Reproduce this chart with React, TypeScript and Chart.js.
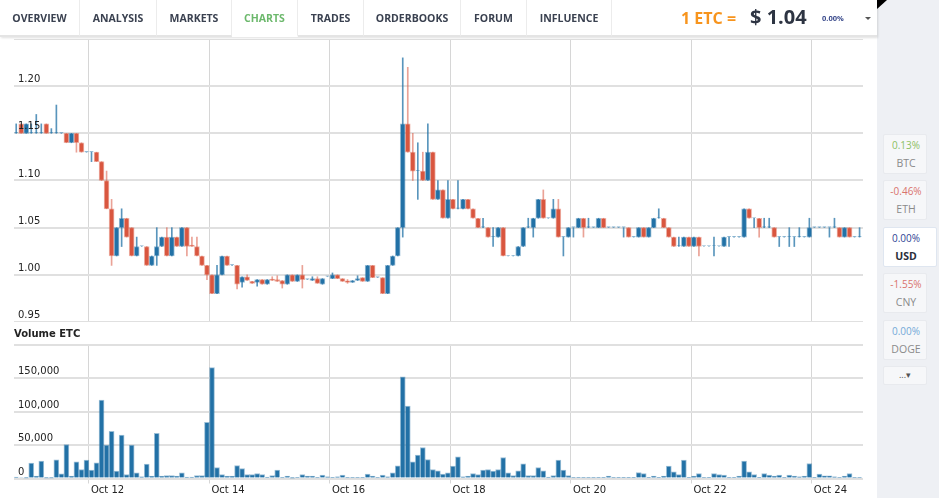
import React, { useEffect, useRef } from 'react';
import { Chart, registerables } from 'chart.js';

Chart.register(...registerables);

// Candles: 2-hour interval, first candle centred at Oct 10 19:00 (hours counted from Oct 10 00:00)
const START_HOUR = 19;
const STEP_HOURS = 2;
const X_MIN = 18.12;
const X_MAX = 356.37;

const dayTicks = [48, 96, 144, 192, 240, 288, 336];
const dayLabels = ['Oct 12', 'Oct 14', 'Oct 16', 'Oct 18', 'Oct 20', 'Oct 22', 'Oct 24'];
const priceTicks = [0.95, 1.0, 1.05, 1.1, 1.15, 1.2, 1.25];
const volumeTicks = [0, 50000, 100000, 150000, 200000];

const opens = [
  1.15, 1.16, 1.15, 1.15, 1.15, 1.15, 1.16, 1.15, 1.15, 1.15,
  1.15, 1.14, 1.15, 1.14, 1.13, 1.13, 1.13, 1.12, 1.10, 1.07,
  1.02, 1.05, 1.06, 1.05, 1.02, 1.03, 1.03, 1.01, 1.02, 1.03,
  1.04, 1.02, 1.04, 1.03, 1.05, 1.031, 1.03, 1.02, 1.01, 1.00,
  0.98, 1.00, 1.02, 1.01, 1.01, 0.992, 0.998, 0.993, 0.992, 0.995,
  0.990, 0.995, 0.995, 0.994, 0.990, 1.000, 0.993, 1.000, 0.995, 0.994,
  0.996, 0.990, 0.998, 0.996, 1.000, 0.996, 0.993, 0.992, 0.994, 0.997,
  0.993, 1.010, 0.997, 0.997, 0.980, 1.010, 1.020, 1.05, 1.16, 1.13,
  1.11, 1.11, 1.10, 1.13, 1.08, 1.09, 1.06, 1.08, 1.07, 1.07,
  1.08, 1.07, 1.06, 1.05, 1.05, 1.04, 1.04, 1.05, 1.02, 1.02,
  1.02, 1.03, 1.05, 1.05, 1.06, 1.08, 1.06, 1.06, 1.07, 1.04,
  1.04, 1.05, 1.05, 1.06, 1.05, 1.05, 1.05, 1.06, 1.05, 1.05,
  1.05, 1.05, 1.05, 1.04, 1.04, 1.05, 1.04, 1.05, 1.06, 1.06,
  1.05, 1.04, 1.03, 1.03, 1.04, 1.03, 1.04, 1.03, 1.03, 1.03,
  1.03, 1.03, 1.04, 1.04, 1.04, 1.04, 1.07, 1.06, 1.06, 1.05,
  1.05, 1.05, 1.04, 1.04, 1.04, 1.04, 1.04, 1.04, 1.04, 1.05,
  1.05, 1.05, 1.05, 1.05, 1.05, 1.04, 1.05, 1.04, 1.04,
];
const closes = [
  1.15, 1.15, 1.16, 1.15, 1.15, 1.15, 1.15, 1.15, 1.15, 1.15,
  1.14, 1.15, 1.14, 1.13, 1.13, 1.13, 1.12, 1.10, 1.07, 1.02,
  1.05, 1.06, 1.04, 1.02, 1.03, 1.03, 1.01, 1.02, 1.03, 1.04,
  1.02, 1.04, 1.03, 1.05, 1.03, 1.03, 1.02, 1.01, 1.00, 0.98,
  1.00, 1.02, 1.01, 1.01, 0.99, 0.998, 0.994, 0.991, 0.995, 0.990,
  0.995, 0.994, 0.993, 0.990, 1.000, 0.993, 1.000, 0.995, 0.995, 0.996,
  0.991, 0.996, 0.998, 1.000, 0.996, 0.993, 0.992, 0.994, 0.996, 0.993,
  1.010, 0.997, 0.997, 0.980, 1.010, 1.020, 1.050, 1.16, 1.13, 1.11,
  1.11, 1.10, 1.13, 1.08, 1.09, 1.06, 1.08, 1.07, 1.07, 1.08,
  1.07, 1.06, 1.05, 1.05, 1.04, 1.04, 1.05, 1.02, 1.02, 1.02,
  1.03, 1.05, 1.05, 1.06, 1.08, 1.06, 1.06, 1.07, 1.04, 1.04,
  1.05, 1.05, 1.06, 1.05, 1.05, 1.05, 1.06, 1.05, 1.05, 1.05,
  1.05, 1.05, 1.04, 1.04, 1.05, 1.04, 1.05, 1.06, 1.06, 1.05,
  1.04, 1.03, 1.03, 1.04, 1.03, 1.04, 1.03, 1.03, 1.03, 1.03,
  1.03, 1.04, 1.04, 1.04, 1.04, 1.07, 1.06, 1.06, 1.05, 1.05,
  1.05, 1.04, 1.04, 1.04, 1.04, 1.04, 1.04, 1.04, 1.05, 1.05,
  1.05, 1.05, 1.05, 1.05, 1.04, 1.05, 1.04, 1.04, 1.04,
];
const highs = [
  1.16, 1.16, 1.16, 1.16, 1.17, 1.16, 1.16, 1.155, 1.18, 1.15,
  1.15, 1.15, 1.15, 1.14, 1.13, 1.13, 1.13, 1.12, 1.11, 1.08,
  1.05, 1.07, 1.06, 1.05, 1.04, 1.03, 1.03, 1.02, 1.05, 1.04,
  1.05, 1.05, 1.04, 1.05, 1.05, 1.04, 1.04, 1.02, 1.01, 1.00,
  1.01, 1.02, 1.02, 1.01, 1.01, 0.998, 1.000, 0.993, 0.995, 0.995,
  0.995, 0.998, 0.999, 0.994, 1.000, 1.000, 1.000, 1.010, 0.995, 0.998,
  0.998, 0.996, 0.998, 1.002, 1.000, 0.996, 0.995, 0.994, 0.999, 0.997,
  1.010, 1.010, 0.997, 0.997, 1.010, 1.020, 1.050, 1.23, 1.22, 1.15,
  1.14, 1.13, 1.16, 1.13, 1.10, 1.09, 1.10, 1.08, 1.10, 1.08,
  1.08, 1.07, 1.06, 1.06, 1.05, 1.05, 1.05, 1.05, 1.02, 1.02,
  1.03, 1.05, 1.06, 1.06, 1.08, 1.09, 1.06, 1.08, 1.08, 1.04,
  1.05, 1.05, 1.06, 1.06, 1.06, 1.05, 1.06, 1.06, 1.05, 1.05,
  1.05, 1.05, 1.05, 1.04, 1.05, 1.05, 1.05, 1.06, 1.07, 1.06,
  1.05, 1.04, 1.04, 1.04, 1.04, 1.04, 1.04, 1.03, 1.03, 1.04,
  1.03, 1.04, 1.04, 1.04, 1.04, 1.07, 1.07, 1.06, 1.06, 1.06,
  1.06, 1.05, 1.04, 1.04, 1.05, 1.04, 1.05, 1.04, 1.06, 1.05,
  1.05, 1.05, 1.05, 1.06, 1.05, 1.05, 1.05, 1.04, 1.05,
];
const lows = [
  1.15, 1.15, 1.15, 1.15, 1.15, 1.15, 1.15, 1.15, 1.15, 1.15,
  1.14, 1.14, 1.13, 1.13, 1.13, 1.12, 1.12, 1.10, 1.07, 1.01,
  1.02, 1.03, 1.04, 1.02, 1.02, 1.03, 1.01, 1.01, 1.01, 1.03,
  1.02, 1.02, 1.03, 1.03, 1.02, 1.03, 1.02, 1.01, 0.995, 0.98,
  0.98, 1.00, 1.01, 1.01, 0.985, 0.987, 0.994, 0.991, 0.988, 0.990,
  0.990, 0.994, 0.993, 0.986, 0.990, 0.993, 0.993, 0.986, 0.995, 0.994,
  0.991, 0.990, 0.998, 0.996, 0.996, 0.993, 0.991, 0.992, 0.994, 0.993,
  0.993, 0.997, 0.997, 0.980, 0.980, 1.010, 1.020, 1.04, 1.13, 1.10,
  1.08, 1.10, 1.10, 1.08, 1.08, 1.06, 1.06, 1.07, 1.07, 1.07,
  1.07, 1.06, 1.05, 1.05, 1.04, 1.03, 1.04, 1.02, 1.02, 1.02,
  1.02, 1.03, 1.05, 1.04, 1.06, 1.06, 1.06, 1.06, 1.04, 1.02,
  1.04, 1.04, 1.05, 1.04, 1.05, 1.05, 1.05, 1.05, 1.05, 1.05,
  1.05, 1.04, 1.04, 1.04, 1.04, 1.04, 1.04, 1.05, 1.06, 1.05,
  1.04, 1.03, 1.03, 1.03, 1.03, 1.03, 1.02, 1.03, 1.03, 1.02,
  1.03, 1.03, 1.03, 1.04, 1.04, 1.04, 1.06, 1.05, 1.04, 1.05,
  1.05, 1.04, 1.03, 1.04, 1.03, 1.03, 1.04, 1.04, 1.04, 1.05,
  1.05, 1.05, 1.04, 1.05, 1.04, 1.04, 1.04, 1.04, 1.04,
];
const volumes = [
  2000, 1500, 500, 23000, 3500, 26000, 500, 500, 28000, 7000,
  51000, 3500, 25000, 13500, 27500, 12500, 23500, 117500, 50000, 70500,
  11000, 65000, 6000, 50000, 8500, 2500, 21500, 3500, 67500, 3500,
  4500, 4500, 3500, 8500, 2000, 2000, 4500, 4500, 84000, 166000,
  16500, 6000, 3500, 3500, 19500, 15000, 6000, 6000, 7500, 6000,
  2000, 4500, 12500, 700, 3500, 300, 700, 6000, 3500, 3500,
  700, 5000, 2500, 1200, 2500, 5000, 700, 700, 700, 700,
  6500, 3500, 700, 5000, 2500, 8500, 19000, 152500, 108500, 25000,
  35000, 46500, 28500, 13500, 11500, 6500, 8500, 18500, 32500, 2500,
  3500, 7500, 6000, 12500, 13500, 11000, 13500, 31500, 8500, 4500,
  11500, 22000, 4500, 4500, 16500, 11500, 2000, 4500, 27500, 12500,
  4500, 700, 1700, 700, 700, 700, 1700, 1700, 3500, 700,
  1700, 1700, 1700, 1700, 9000, 7500, 1700, 3500, 1700, 3500,
  18500, 10000, 6000, 27500, 1700, 3500, 7500, 700, 1700, 7500,
  6000, 5000, 700, 1700, 3500, 26000, 10000, 6000, 1700, 7500,
  5000, 3500, 5000, 700, 5000, 3500, 2500, 3500, 22500, 1700,
  6500, 4000, 4000, 2500, 700, 3500, 7500, 700, 700,
];

const tabs = ['OVERVIEW', 'ANALYSIS', 'MARKETS', 'CHARTS', 'TRADES', 'ORDERBOOKS', 'FORUM', 'INFLUENCE'];
const tabEdges = [0, 80, 157, 232, 298, 364, 461, 527, 612];
const currencies = [
  { pct: '0.13%', name: 'BTC', color: '#8cc063' },
  { pct: '-0.46%', name: 'ETH', color: '#d9736d' },
  { pct: '0.00%', name: 'USD', color: '#2f3f94', active: true },
  { pct: '-1.55%', name: 'CNY', color: '#d9736d' },
  { pct: '0.00%', name: 'DOGE', color: '#74a9d8' },
];
const currencyTops = [134, 180, 227, 273, 320];

const BLUE = '#2271a6';
const RED = '#d9563f';
const TICK_FONT = { family: 'DejaVu Sans', size: 10 };

// draws the price axis labels above the candles (gridlines stay underneath)
const priceLabelPlugin = {
  id: 'priceLabels',
  afterDatasetsDraw(chart: any) {
    const y = chart.scales.y;
    const ctx = chart.ctx;
    ctx.save();
    ctx.font = "10px 'DejaVu Sans'";
    ctx.fillStyle = '#222';
    ctx.textAlign = 'left';
    ctx.textBaseline = 'middle';
    priceTicks.forEach((v) => {
      if (v >= 1.249) return;
      ctx.fillText(v.toFixed(2), chart.chartArea.left + 4, y.getPixelForValue(v) - 6.5);
    });
    ctx.restore();
  },
};

export default function App() {
  const priceRef = useRef<HTMLCanvasElement>(null);
  const volRef = useRef<HTMLCanvasElement>(null);

  useEffect(() => {
    const hours = opens.map((_, i) => START_HOUR + i * STEP_HOURS);
    const up = opens.map((o, i) => closes[i] >= o);
    const doji = opens.map((o, i) => Math.abs(closes[i] - o) < 0.0005);

    const xCommon = {
      type: 'linear',
      min: X_MIN,
      max: X_MAX,
      offset: false,
      afterBuildTicks: (s: any) => {
        s.ticks = dayTicks.map((v) => ({ value: v }));
      },
    };

    const price = new Chart(priceRef.current as HTMLCanvasElement, {
      type: 'bar',
      data: {
        datasets: [
          {
            label: 'range',
            data: hours.map((h, i) => ({ x: h, y: [lows[i], highs[i]] })),
            backgroundColor: up.map((u) => (u ? 'rgba(34,113,166,0.75)' : 'rgba(217,86,63,0.55)')),
            barThickness: 1,
            grouped: false,
            order: 2,
          },
          {
            label: 'body',
            data: hours.map((h, i) => ({ x: h, y: [opens[i], closes[i]] })),
            backgroundColor: up.map((u, i) => (doji[i] ? 'rgba(34,113,166,0.6)' : u ? BLUE : RED)),
            borderColor: up.map((u, i) => (doji[i] ? 'rgba(34,113,166,0)' : u ? 'rgba(34,113,166,0.45)' : 'rgba(217,86,63,0.45)')),
            borderWidth: 1,
            borderSkipped: false,
            barThickness: 5,
            minBarLength: 1.5,
            grouped: false,
            order: 1,
          },
        ],
      } as any,
      options: {
        animation: false,
        responsive: false,
        maintainAspectRatio: false,
        layout: { padding: { left: 14, right: 15, top: 0, bottom: 0 } },
        plugins: { legend: { display: false }, tooltip: { enabled: false } },
        scales: {
          x: {
            ...xCommon,
            grid: { offset: false, color: '#d6d6d6', lineWidth: 1, drawTicks: false },
            border: { display: true, color: '#d0d0d0' },
            ticks: { display: false },
            afterFit: (s: any) => {
              s.height = 0;
              s.paddingLeft = 0;
              s.paddingRight = 0;
            },
          },
          y: {
            min: 0.95,
            max: 1.25,
            position: 'left',
            grid: { color: '#e0e0e0', lineWidth: 2, drawTicks: false },
            border: { display: false },
            ticks: { display: false },
            afterBuildTicks: (s: any) => {
              s.ticks = priceTicks.map((v) => ({ value: v }));
            },
            afterFit: (s: any) => {
              s.width = 0;
              s.paddingTop = 0;
              s.paddingBottom = 0;
            },
          },
        },
      } as any,
      plugins: [priceLabelPlugin],
    });

    const vol = new Chart(volRef.current as HTMLCanvasElement, {
      type: 'bar',
      data: {
        datasets: [
          {
            label: 'Volume ETC',
            data: hours.map((h, i) => ({ x: h, y: volumes[i] })),
            backgroundColor: BLUE,
            borderColor: 'rgba(34,113,166,0.45)',
            borderWidth: 1,
            borderSkipped: 'bottom',
            barThickness: 5,
            grouped: false,
          },
        ],
      } as any,
      options: {
        animation: false,
        responsive: false,
        maintainAspectRatio: false,
        layout: { padding: { left: 14, right: 15, top: 23, bottom: 0 } },
        plugins: { legend: { display: false }, tooltip: { enabled: false } },
        scales: {
          x: {
            ...xCommon,
            grid: { offset: false, color: '#d6d6d6', lineWidth: 1, drawTicks: true, tickLength: 5 },
            border: { display: false },
            ticks: {
              display: true,
              autoSkip: false,
              maxRotation: 0,
              align: 'start',
              labelOffset: 2,
              padding: 1,
              color: '#222',
              font: TICK_FONT,
              callback: (v: any) => {
                const idx = dayTicks.indexOf(Number(v));
                return idx >= 0 ? dayLabels[idx] : '';
              },
            },
            afterFit: (s: any) => {
              s.height = 19.5;
              s.paddingLeft = 0;
              s.paddingRight = 0;
            },
          },
          y: {
            min: 0,
            max: 200000,
            position: 'left',
            grid: { color: '#e0e0e0', lineWidth: 2, drawTicks: false },
            border: { display: false },
            ticks: {
              mirror: true,
              padding: 4,
              labelOffset: -6.5,
              color: '#222',
              font: TICK_FONT,
              callback: (v: any) => (Number(v) >= 200000 ? '' : Number(v).toLocaleString('en-US')),
            },
            afterBuildTicks: (s: any) => {
              s.ticks = volumeTicks.map((v) => ({ value: v }));
            },
            afterFit: (s: any) => {
              s.width = 0;
              s.paddingTop = 0;
              s.paddingBottom = 0;
            },
          },
        },
      } as any,
    });

    return () => {
      price.destroy();
      vol.destroy();
    };
  }, []);

  return (
    <div
      style={{
        position: 'absolute',
        left: 0,
        top: 0,
        width: 939,
        height: 498,
        overflow: 'hidden',
        background: '#fff',
        fontFamily: "'Open Sans', sans-serif",
      }}
    >
      {/* right side panel */}
      <div style={{ position: 'absolute', left: 877, top: 0, width: 62, height: 498, background: '#eef0f4' }} />
      <div
        style={{
          position: 'absolute',
          left: 877,
          top: 0,
          width: 0,
          height: 0,
          borderTop: '9px solid #000',
          borderRight: '10px solid transparent',
        }}
      />
      {currencies.map((c, i) => (
        <div
          key={c.name}
          style={{
            position: 'absolute',
            left: 883,
            top: currencyTops[i],
            width: c.active ? 54 : 44,
            height: 40,
            boxSizing: 'border-box',
            background: c.active ? '#fff' : '#f6f7f9',
            border: c.active ? '1px solid #dfe6f0' : '1px solid #e8eaee',
            borderRadius: 2,
          }}
        >
          <div
            style={{
              position: 'absolute',
              left: 0,
              width: 44,
              top: 3,
              textAlign: 'center',
              fontSize: 10,
              color: c.color,
            }}
          >
            {c.pct}
          </div>
          <div
            style={{
              position: 'absolute',
              left: 0,
              width: 44,
              top: 21,
              textAlign: 'center',
              fontSize: 10.5,
              color: c.active ? '#2b2f3a' : '#8a8a8a',
              fontWeight: c.active ? 700 : 400,
            }}
          >
            {c.name}
          </div>
        </div>
      ))}
      <div
        style={{
          position: 'absolute',
          left: 883,
          top: 366,
          width: 44,
          height: 19,
          boxSizing: 'border-box',
          background: '#f6f7f9',
          border: '1px solid #e8eaee',
          borderRadius: 2,
          textAlign: 'center',
          fontSize: 9,
          lineHeight: '16px',
          color: '#555',
        }}
      >
        ...▾
      </div>

      {/* charts */}
      <canvas ref={priceRef} width={878} height={283} style={{ position: 'absolute', left: 0, top: 39, width: 878, height: 283 }} />
      <canvas ref={volRef} width={878} height={176} style={{ position: 'absolute', left: 0, top: 322, width: 878, height: 176 }} />
      <div
        style={{
          position: 'absolute',
          left: 14,
          top: 328,
          fontFamily: "'DejaVu Sans', sans-serif",
          fontWeight: 700,
          fontSize: 10,
          color: '#222',
        }}
      >
        Volume ETC
      </div>

      {/* top nav */}
      <div
        style={{
          position: 'absolute',
          left: 0,
          top: 0,
          width: 877,
          height: 37,
          background: '#fff',
          boxShadow: '1px 1px 2px rgba(0,0,0,0.12)',
        }}
      >
        {tabs.map((t, i) => {
          const active = t === 'CHARTS';
          return (
            <div
              key={t}
              style={{
                position: 'absolute',
                left: tabEdges[i],
                top: 0,
                width: tabEdges[i + 1] - tabEdges[i],
                height: 37,
                boxSizing: 'border-box',
                borderRight: '1px solid #ececec',
                borderBottom: active ? '2px solid #fff' : '2px solid #e4e4e4',
                textAlign: 'center',
                lineHeight: '36px',
                fontSize: 10.5,
                fontWeight: 700,
                color: active ? '#6cb86c' : '#3a4150',
              }}
            >
              {t}
            </div>
          );
        })}
        <div
          style={{
            position: 'absolute',
            left: 612,
            top: 0,
            width: 265,
            height: 37,
            boxSizing: 'border-box',
            borderBottom: '2px solid #e4e4e4',
          }}
        />
        <div
          style={{
            position: 'absolute',
            left: 681,
            top: 7,
            fontSize: 16,
            fontWeight: 700,
            color: '#f7941d',
            whiteSpace: 'nowrap',
          }}
        >
          1 ETC =
        </div>
        <div
          style={{
            position: 'absolute',
            left: 750,
            top: 3,
            fontSize: 20,
            fontWeight: 700,
            color: '#2d3442',
            whiteSpace: 'nowrap',
          }}
        >
          $ 1.04
        </div>
        <div
          style={{
            position: 'absolute',
            left: 822,
            top: 13,
            fontSize: 7.5,
            fontWeight: 700,
            color: '#3a4a8c',
          }}
        >
          0.00%
        </div>
        <div
          style={{
            position: 'absolute',
            left: 865,
            top: 17,
            width: 0,
            height: 0,
            borderTop: '3px solid #555',
            borderLeft: '3px solid transparent',
            borderRight: '3px solid transparent',
          }}
        />
      </div>
    </div>
  );
}
